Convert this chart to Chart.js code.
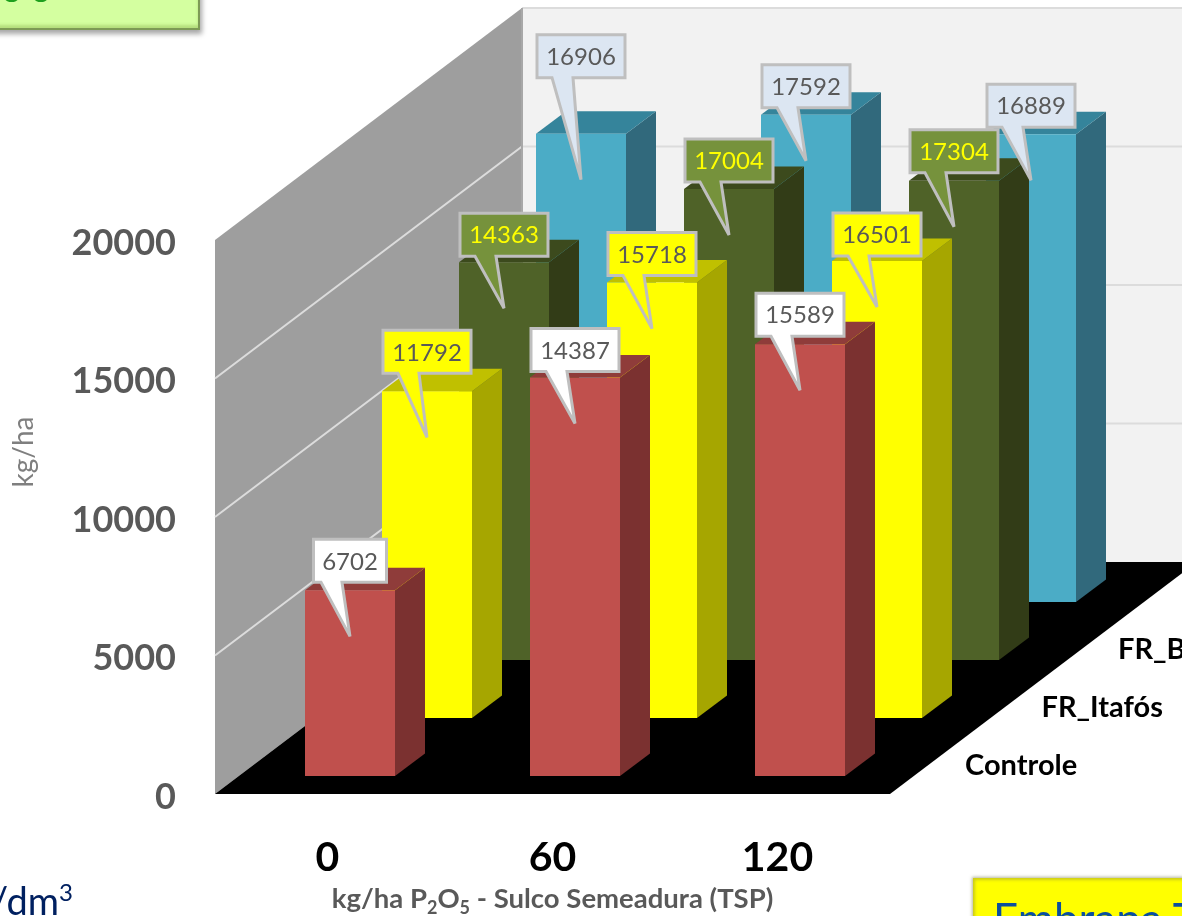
<!DOCTYPE html>
<html lang="pt-BR">
    <head>
        <meta charset="UTF-8" />
        <title>Produtividade</title>
        <script src="https://cdnjs.cloudflare.com/ajax/libs/Chart.js/4.4.1/chart.umd.min.js"></script>
        <style>
            html, body { margin: 0; padding: 0; background: #fff; overflow: hidden; }
            body { position: relative; width: 1182px; height: 916px; font-family: Lato, sans-serif; }
            canvas { position: absolute; left: 0; top: 0; }
            .note { position: absolute; white-space: nowrap; overflow: hidden; }
            #greenBox {
                left: -10px; top: -20px; width: 210px; height: 50px;
                background: #d4ffa0;
                border: 1px solid #7d9a55; border-width: 0 2px 2px 0;
                box-shadow: 2px 4px 5px rgba(0, 0, 0, 0.35), inset 0 -3px 3px rgba(150, 190, 90, 0.5);
                color: #1ea01e; font: bold 40px Lato; letter-spacing: 6px; line-height: 14px;
                padding: 0 0 0 10px; box-sizing: border-box;
            }
            #unit { right: 1109px; top: 876px; font-size: 38px; color: #002060; line-height: 48px; }
            #unit sup { font-size: 24px; line-height: 0; }
            #yellowBox {
                left: 973px; top: 878px; width: 240px; height: 60px;
                background: #ffff00;
                box-shadow: -1px -1px 3px rgba(110, 110, 60, 0.5), inset 2px 2px 3px rgba(170, 170, 40, 0.6);
                color: #0b4f9e; font-size: 44px; line-height: 46px;
                padding: 17px 0 0 20px; box-sizing: border-box;
            }
        </style>
    </head>

    <body>
        <canvas id="myChart" width="1182" height="916"></canvas>
        <div class="note" id="greenBox">00</div>
        <div class="note" id="unit">mg/dm<sup>3</sup></div>
        <div class="note" id="yellowBox">Embrapa Trigo</div>
    </body>

    <script>
        const doses = ["0", "60", "120"];

        const controle = [6702, 14387, 15589];
        const frItafos = [11792, 15718, 16501];
        const frB = [14363, 17004, 17304];
        const frOutro = [16906, 17592, 16889];

        const yTicks = [0, 5000, 10000, 15000, 20000];

        // depth of the box, the step between rows and the inset of the first row
        const boxDepth = { x: 307, y: 232 };
        const rowStep = { x: 77, y: 58 };
        const rowInset = { x: 22.5, y: 18 };
        const barDepth = { x: 30, y: 22.5 };

        // row look: front, side, top, callout fill, callout text
        const rowLook = [
            ["#c0504d", "#7b3130", "#8f3c3a", "#ffffff", "#595959"],
            ["#ffff00", "#a6a600", "#c0c000", "#ffff00", "#595959"],
            ["#4f6228", "#323c17", "#3c4a1d", "#76923c", "#ffff00"],
            ["#4bacc6", "#31697c", "#35849b", "#dce6f2", "#595959"],
        ];

        // how far each callout box floats above its bar
        const calloutGap = [
            [8, 6, 8],
            [18, 7, 5],
            [6, 7, 8],
            [56, 7, 7],
        ];

        const rowShift = (i) => ({
            x: rowInset.x + rowStep.x * i,
            y: rowInset.y + rowStep.y * i,
        });

        function poly(ctx, fill, pts) {
            ctx.fillStyle = fill;
            ctx.beginPath();
            pts.forEach((p, i) => (i ? ctx.lineTo(p[0], p[1]) : ctx.moveTo(p[0], p[1])));
            ctx.closePath();
            ctx.fill();
        }

        // walls, floor and grid lines behind the bars
        const box3d = {
            id: "box3d",
            beforeDatasetsDraw(chart) {
                const ctx = chart.ctx;
                const { left, right, bottom, top } = chart.chartArea;
                const dx = boxDepth.x;
                const dy = boxDepth.y;
                const yScale = chart.scales.y;

                ctx.save();
                poly(ctx, "#f2f2f2", [[left + dx, top - dy], [right + dx, top - dy], [right + dx, bottom - dy], [left + dx, bottom - dy]]);
                poly(ctx, "#9e9e9e", [[left, top], [left + dx, top - dy], [left + dx, bottom - dy], [left, bottom]]);
                poly(ctx, "#000000", [[left, bottom], [right, bottom], [right + dx, bottom - dy], [left + dx, bottom - dy]]);

                ctx.lineWidth = 2;
                ctx.strokeStyle = "#dcdcdc";
                yTicks.forEach((t) => {
                    if (t === 0) return;
                    const y = yScale.getPixelForValue(t);
                    ctx.beginPath();
                    if (t < 20000) {
                        ctx.moveTo(left, y);
                    } else {
                        ctx.moveTo(left + dx, y - dy);
                    }
                    ctx.lineTo(left + dx, y - dy);
                    ctx.lineTo(right + dx, y - dy);
                    ctx.stroke();
                });
                ctx.strokeStyle = "#a8a8a8";
                ctx.beginPath();
                ctx.moveTo(left + dx, top - dy);
                ctx.lineTo(left + dx, bottom - dy);
                ctx.stroke();
                ctx.restore();
            },

            // each row is pushed into the box; its side and top go under the front face
            beforeDatasetDraw(chart, args) {
                const ctx = chart.ctx;
                const shift = rowShift(args.index);
                const look = rowLook[args.index];
                ctx.save();
                ctx.translate(shift.x, -shift.y);
                args.meta.data.forEach((bar) => {
                    const { x, y, base, width } = bar.getProps(["x", "y", "base", "width"], true);
                    const l = x - width / 2;
                    const r = x + width / 2;
                    poly(ctx, look[1], [[r, y], [r + barDepth.x, y - barDepth.y], [r + barDepth.x, base - barDepth.y], [r, base]]);
                    poly(ctx, look[2], [[l, y], [l + barDepth.x, y - barDepth.y], [r + barDepth.x, y - barDepth.y], [r, y]]);
                });
            },
            afterDatasetDraw(chart) {
                chart.ctx.restore();
            },

            afterDatasetsDraw(chart) {
                const ctx = chart.ctx;
                const { right, bottom } = chart.chartArea;

                // value callouts, back row first
                for (let i = chart.data.datasets.length - 1; i >= 0; i--) {
                    const shift = rowShift(i);
                    const look = rowLook[i];
                    chart.getDatasetMeta(i).data.forEach((bar, j) => {
                        const text = String(chart.data.datasets[i].data[j]);
                        const { x, y } = bar.getProps(["x", "y"], true);
                        const cx = x + shift.x;
                        const topY = y - shift.y;
                        const w = text.length > 4 ? 88 : 73;
                        const h = 43;
                        const by = topY - calloutGap[i][j] - h;
                        const tipY = topY + 46;
                        ctx.save();
                        ctx.beginPath();
                        ctx.moveTo(cx - w / 2, by);
                        ctx.lineTo(cx + w / 2, by);
                        ctx.lineTo(cx + w / 2, by + h);
                        ctx.lineTo(cx - 8, by + h);
                        ctx.lineTo(cx, tipY);
                        ctx.lineTo(cx - 29, by + h);
                        ctx.lineTo(cx - w / 2, by + h);
                        ctx.closePath();
                        ctx.fillStyle = look[3];
                        ctx.fill();
                        ctx.lineWidth = 3;
                        ctx.miterLimit = 3;
                        ctx.strokeStyle = "#bfbfbf";
                        ctx.stroke();
                        ctx.fillStyle = look[4];
                        ctx.font = "24px Lato";
                        ctx.textAlign = "center";
                        ctx.textBaseline = "middle";
                        ctx.fillText(text, cx, by + h / 2 + 1);
                        ctx.restore();
                    });
                }

                // row names along the right edge of the floor
                ctx.save();
                ctx.font = "bold 29px Lato";
                ctx.fillStyle = "#000000";
                ctx.textBaseline = "middle";
                chart.data.datasets.forEach((ds, i) => {
                    ctx.fillText(ds.label, right + 75 + 76.5 * i, bottom - 28 - rowStep.y * i);
                });
                ctx.restore();

                // axis names; the x one needs real subscripts
                ctx.save();
                ctx.fillStyle = "#7f7f7f";
                ctx.font = "28px Lato";
                ctx.textAlign = "center";
                ctx.textBaseline = "middle";
                ctx.translate(24, 452);
                ctx.rotate(-Math.PI / 2);
                ctx.fillText("kg/ha", 0, 0);
                ctx.restore();

                ctx.save();
                ctx.fillStyle = "#595959";
                ctx.textBaseline = "alphabetic";
                const runs = [
                    ["kg/ha P", false],
                    ["2", true],
                    ["O", false],
                    ["5", true],
                    [" - Sulco Semeadura (TSP)", false],
                ];
                const total = runs.reduce((s, r) => {
                    ctx.font = r[1] ? "bold 18px Lato" : "bold 27.5px Lato";
                    return s + ctx.measureText(r[0]).width;
                }, 0);
                let tx = chart.scales.x.getPixelForValue(1) - total / 2;
                runs.forEach((r) => {
                    ctx.font = r[1] ? "bold 18px Lato" : "bold 27.5px Lato";
                    ctx.fillText(r[0], tx, r[1] ? 914 : 908);
                    tx += ctx.measureText(r[0]).width;
                });
                ctx.restore();
            },
        };

        const chart = new Chart("myChart", {
            type: "bar",
            data: {
                labels: doses,
                datasets: [
                    { label: "Controle", data: controle },
                    { label: "FR_Itafós", data: frItafos },
                    { label: "FR_Bayóvar", data: frB },
                    { label: "FR_4", data: frOutro },
                ].map((ds, i) => ({
                    ...ds,
                    backgroundColor: rowLook[i][0],
                    borderWidth: 0,
                    grouped: false,
                    categoryPercentage: 0.4,
                    barPercentage: 1,
                    clip: false,
                })),
            },
            plugins: [box3d],
            options: {
                responsive: false,
                animation: false,
                layout: { padding: { top: 240, right: 292, left: 0, bottom: 0 } },
                plugins: {
                    legend: { display: false },
                    tooltip: { enabled: false },
                },
                scales: {
                    x: {
                        border: { display: false },
                        grid: { display: false, drawTicks: false },
                        ticks: {
                            padding: 39,
                            color: "#000000",
                            font: { family: "Lato", size: 41, weight: "bold" },
                            maxRotation: 0,
                        },
                        afterFit(scale) {
                            scale.height = 122;
                        },
                    },
                    y: {
                        min: 0,
                        max: 20000,
                        border: { display: false },
                        grid: { display: false, drawTicks: false },
                        ticks: {
                            stepSize: 5000,
                            padding: 39,
                            color: "#595959",
                            font: { family: "Lato", size: 36, weight: "bold" },
                            callback: (v) => String(v),
                        },
                        afterFit(scale) {
                            scale.width = 215;
                            // tick labels sit a little under the grid line
                            scale.draw = function (area) {
                                this.ctx.save();
                                this.ctx.translate(0, 3);
                                Chart.Scale.prototype.draw.call(this, area);
                                this.ctx.restore();
                            };
                        },
                    },
                },
            },
        });
    </script>
</html>
